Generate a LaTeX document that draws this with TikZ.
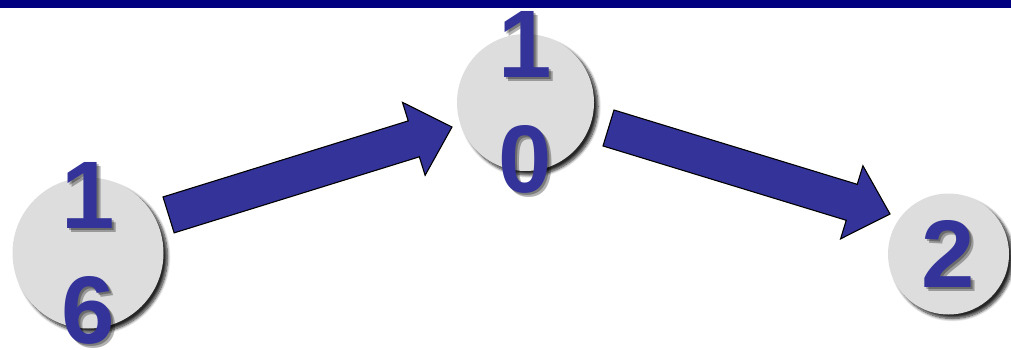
\documentclass[tikz,border=0pt]{standalone}
\usepackage{fontspec}
\setmainfont{Liberation Sans}
\usetikzlibrary{calc,shadows.blur}
\definecolor{numblue}{HTML}{333399}
\definecolor{circgray}{HTML}{DDDDDD}
\definecolor{barnavy}{HTML}{000080}
\tikzset{
  circ/.style={circle, fill=circgray, inner sep=0pt,
    blur shadow={shadow xshift=4pt, shadow yshift=-4pt, shadow blur radius=3pt, shadow blur steps=8, shadow opacity=85}},
  num/.style={font=\bfseries\fontsize{96}{115}\selectfont, text=numblue, align=center, inner sep=0pt},
  numshadow/.style={font=\bfseries\fontsize{96}{115}\selectfont, text=black, opacity=0.3, align=center, inner sep=0pt},
  fatarrow/.style={fill=numblue, draw=black, line width=1.1pt, line join=miter},
}
\newcommand{\fatarr}[3]{%
  \path ($(#2)!40pt!(#1)$) coordinate (#3);
  \draw[fatarrow] ($(#1)!18.8pt!90:(#2)$) -- ($(#3)!18.8pt!90:(#2)$) -- ($(#3)!38.2pt!90:(#2)$)
    -- (#2) -- ($(#3)!38.2pt!-90:(#2)$) -- ($(#3)!18.8pt!-90:(#2)$) -- ($(#1)!18.8pt!-90:(#2)$) -- cycle;
}
\begin{document}
\begin{tikzpicture}[x=1pt,y=-1pt]
\useasboundingbox (0,0) rectangle (1011,350);
\fill[barnavy] (0,0) rectangle (1011,8);
\node[circ, minimum size=151pt] (c16) at (88,253) {};
\node[circ, minimum size=137pt] (c10) at (525.5,102.5) {};
\node[circ, minimum size=121pt] (c2) at (948.5,254) {};
\coordinate (t1) at (168.6,214.9);
\coordinate (h1) at (452,127);
\coordinate (t2) at (608.5,128);
\coordinate (h2) at (890,214);
\fatarr{t1}{h1}{b1}
\fatarr{t2}{h2}{b2}
\node[numshadow] (sa16) at ($(c16)+(4,4)$) {1\\6};
\node[numshadow] (sa10) at ($(c10)+(4,4)$) {1\\0};
\node[numshadow] (sa2) at ($(c2)+(4,4)$) {2};
\node[numshadow] (sb16) at ($(c16)+(2,2)$) {1\\6};
\node[numshadow] (sb10) at ($(c10)+(2,2)$) {1\\0};
\node[numshadow] (sb2) at ($(c2)+(2,2)$) {2};
\node[num] (n16) at (c16) {1\\6};
\node[num] (n10) at (c10) {1\\0};
\node[num] (n2) at (c2) {2};
\end{tikzpicture}
\end{document}
